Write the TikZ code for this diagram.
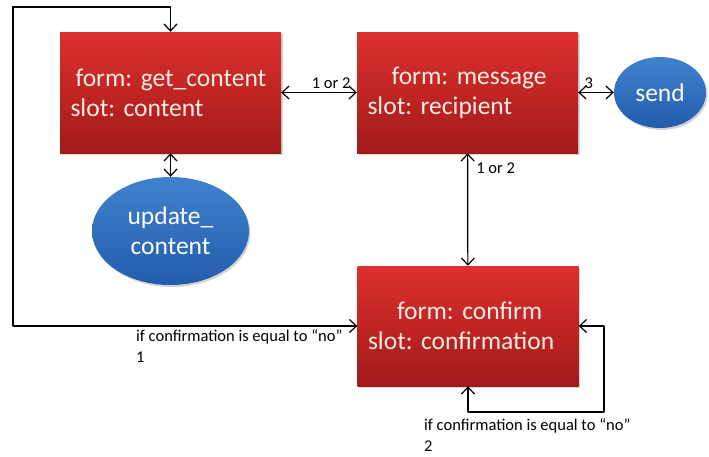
\documentclass[tikz,border=0pt]{standalone}
\usepackage{fontspec}
\setmainfont{Carlito}
\newfontfamily\formfont{Carlito}[WordSpace=0.6]
\frenchspacing
\usetikzlibrary{shapes.geometric,shadows,arrows.meta}
\definecolor{formtop}{RGB}{220,48,46}
\definecolor{formbot}{RGB}{162,26,26}
\definecolor{acttop}{RGB}{64,130,206}
\definecolor{actbot}{RGB}{36,92,172}
\definecolor{formtext}{RGB}{255,236,226}
\begin{document}
\begin{tikzpicture}[x=1pt,y=-1pt,line cap=round,line join=round,
  formbox/.style={rectangle,minimum width=221pt,minimum height=121pt,
    top color=formtop,bottom color=formbot,draw=none,
    drop shadow={opacity=0.35,shadow xshift=1.5pt,shadow yshift=-2pt},
    text=formtext,font=\formfont\fontsize{25.5}{30}\selectfont,
    text width=200pt,align=left},
  action/.style={ellipse,top color=acttop,bottom color=actbot,draw=none,
    drop shadow={opacity=0.35,shadow xshift=1.5pt,shadow yshift=-2pt},
    text=white,font=\formfont\fontsize{25.5}{30}\selectfont,align=center,inner sep=0pt},
  link/.style={line width=1.2pt,{Straight Barb[length=7pt,width=13pt]}-{Straight Barb[length=7pt,width=13pt]}},
  cond/.style={font=\fontsize{16.5}{21}\selectfont,align=left,inner sep=0pt}]
  \useasboundingbox (0,0) rectangle (709,456);
  % forms
  \node[formbox] (getcontent) at (170.5,92.5) {\hspace*{5pt}form: get\_content\\slot: content};
  \node[formbox] (message) at (467.5,92.5) {\hspace*{24pt}form: message\\slot: recipient};
  \node[formbox,minimum height=120pt] (confirm) at (468,326) {\hspace*{29pt}form: confirm\\slot: confirmation};
  % actions
  \node[action,minimum width=92pt,minimum height=71pt] (send) at (660,92.5) {send};
  \node[action,minimum width=157pt,minimum height=108pt] (update) at (170.5,231) {update\_\\content};
  % links
  \draw[link] (getcontent) -- (message) node[pos=0.66,above=3pt,cond] {1 or 2};
  \draw[link] (message) -- (send) node[pos=0.3,above=3pt,cond] {3};
  \draw[link] (getcontent) -- (update);
  \draw[link] (message) -- (confirm) node[pos=0.13,right=8pt,cond] {1 or 2};
  % loops back on "no"
  \coordinate (loopL) at (13,7);
  \coordinate (loopR) at (604,412);
  \draw[link] (confirm.west) -| (loopL) -| (getcontent.north);
  \draw[link] (confirm.south) |- (loopR) |- (confirm.east);
  \node[cond,anchor=north west] (noone) at (136,329) {if confirmation is equal to ``no''\\1};
  \node[cond,anchor=north west] (notwo) at (424,418) {if confirmation is equal to ``no''\\2};
\end{tikzpicture}
\end{document}
